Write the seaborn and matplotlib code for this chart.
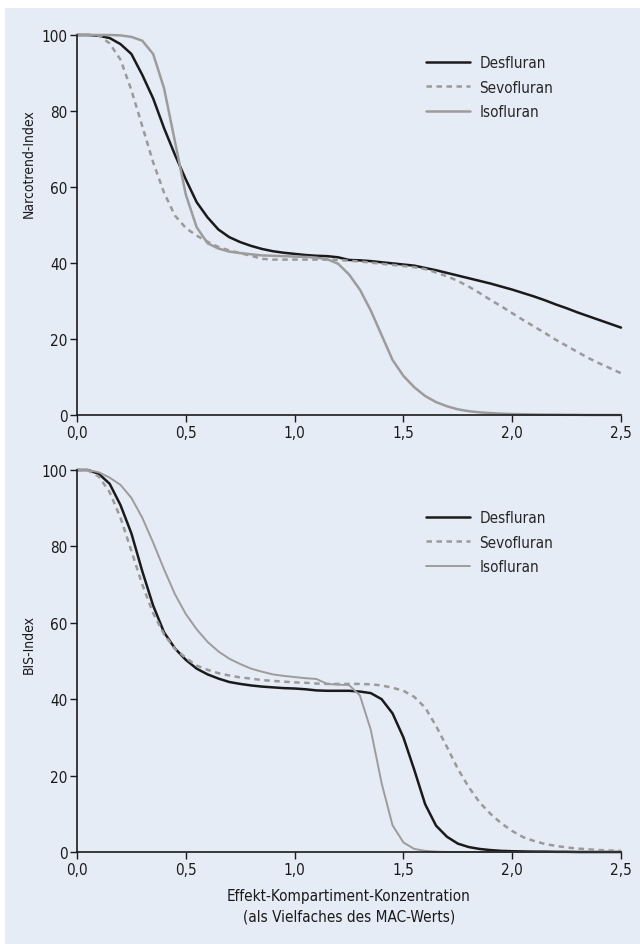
"""
Narcotrend- und BIS-Index vs. Effekt-Kompartiment-Konzentration
"""
import matplotlib
matplotlib.use("Agg")
import matplotlib.pyplot as plt
from matplotlib.patches import Rectangle
import numpy as np
import pandas as pd
import seaborn as sns

# Konzentration (Vielfaches des MAC-Werts), Raster 0.05
mac = np.round(np.arange(0, 2.501, 0.05), 2)

# Narcotrend-Index (oben)
nt_des = [100, 100, 99.8, 99.2, 97.6, 95.0, 89.5, 83.3, 75.5, 68.5,
          62.0, 56.0, 52.0, 48.8, 46.8, 45.5, 44.5, 43.7, 43.1, 42.7,
          42.4, 42.1, 41.9, 41.8, 41.5, 40.8, 40.7, 40.5, 40.2, 39.9,
          39.6, 39.3, 38.7, 38.1, 37.4, 36.7, 36.0, 35.3, 34.6, 33.8,
          33.0, 32.1, 31.2, 30.2, 29.1, 28.1, 27.0, 26.0, 25.0, 24.0, 23.0]
nt_sevo = [100, 100, 99.9, 97.8, 93.5, 85.5, 76.0, 66.5, 58.5, 52.5,
           49.2, 47.2, 45.6, 44.2, 43.3, 42.6, 41.9, 41.1, 40.9, 40.9,
           40.9, 40.9, 40.9, 40.9, 40.8, 40.6, 40.4, 40.1, 39.8, 39.5,
           39.2, 38.9, 38.4, 37.5, 36.5, 35.3, 33.8, 32.1, 30.3, 28.6,
           26.8, 25.0, 23.3, 21.6, 19.8, 18.2, 16.6, 15.0, 13.6, 12.3, 11.0]
nt_iso = [100, 100, 100, 100, 99.9, 99.5, 98.5, 95.0, 86.0, 72.0,
          58.0, 49.4, 45.2, 43.8, 43.0, 42.6, 42.3, 42.0, 41.9, 41.8,
          41.7, 41.6, 41.4, 41.0, 39.8, 37.0, 33.0, 27.5, 21.0, 14.5,
          10.3, 7.3, 5.0, 3.4, 2.3, 1.5, 1.0, 0.7, 0.5, 0.35,
          0.25, 0.2, 0.15, 0.1, 0.1, 0.05, 0.05, 0.0, 0.0, 0.0, 0.0]

# BIS-Index (unten)
bis_des = [100, 100, 99.0, 96.4, 90.8, 83.4, 73.5, 64.5, 57.5, 53.3,
           50.3, 48.0, 46.5, 45.4, 44.5, 44.0, 43.6, 43.3, 43.1, 42.9,
           42.8, 42.6, 42.3, 42.2, 42.2, 42.2, 42.0, 41.6, 40.0, 36.3,
           30.0, 21.5, 12.5, 6.9, 4.0, 2.2, 1.3, 0.8, 0.5, 0.3,
           0.2, 0.15, 0.1, 0.1, 0.05, 0.05, 0.0, 0.0, 0.0, 0.0, 0.0]
bis_sevo = [100, 99.9, 98.3, 94.2, 87.5, 78.8, 70.0, 62.5, 57.0, 53.2,
            50.8, 48.8, 47.7, 46.8, 46.2, 45.7, 45.4, 45.0, 44.8, 44.6,
            44.4, 44.3, 44.1, 44.0, 44.0, 44.0, 44.0, 43.9, 43.6, 43.0,
            42.2, 40.6, 37.8, 33.0, 27.5, 21.8, 17.0, 13.0, 10.0, 7.5,
            5.5, 3.9, 2.9, 2.1, 1.6, 1.2, 0.9, 0.7, 0.5, 0.4, 0.3]
bis_iso = [100, 100, 99.4, 98.0, 96.1, 92.7, 87.5, 81.0, 74.0, 67.5,
           62.3, 58.3, 55.0, 52.5, 50.6, 49.2, 48.0, 47.2, 46.5, 46.1,
           45.8, 45.5, 45.3, 44.0, 43.8, 43.7, 41.0, 32.0, 18.0, 7.0,
           2.5, 0.8, 0.3, 0.1, 0.0, 0.0, 0.0, 0.0, 0.0, 0.0,
           0.0, 0.0, 0.0, 0.0, 0.0, 0.0, 0.0, 0.0, 0.0, 0.0, 0.0]

agents = ["Desfluran", "Sevofluran", "Isofluran"]
x_ticks = [0.0, 0.5, 1.0, 1.5, 2.0, 2.5]
x_ticklabels = ["0,0", "0,5", "1,0", "1,5", "2,0", "2,5"]
y_ticks = [0, 20, 40, 60, 80, 100]

sns.set_style("ticks")
plt.rcParams['font.family'] = ['DejaVu Sans']
plt.rcParams['font.stretch'] = 'condensed'

styles = {
    "Desfluran": dict(color="#1a1a1a", linestyle="-", linewidth=1.8),
    "Sevofluran": dict(color="#9a9a9a", linestyle=(0, (2.2, 1.8)), linewidth=1.8),
    "Isofluran": dict(color="#9c9c9c", linestyle="-", linewidth=1.8),
}

fig = plt.figure(figsize=(6.4, 9.45), dpi=100)
fig.patch.set_facecolor("white")
fig.patches.append(Rectangle((5 / 640, 0), 635 / 640, 1 - 9 / 945,
                             transform=fig.transFigure, facecolor="#e5ecf6",
                             edgecolor="none", zorder=-10))

ax_top = fig.add_axes([77 / 640, 1 - 416 / 945, 544 / 640, 380 / 945])
ax_bot = fig.add_axes([77 / 640, 1 - 853 / 945, 544 / 640, 382 / 945])

# (Achse, Reihen, Y-Beschriftung, Linienbreite Iso, Legendenhoehe, Labelhoehe)
panels = [
    (ax_top, [nt_des, nt_sevo, nt_iso], "Narcotrend-Index", 1.8, 0.963, 0.665),
    (ax_bot, [bis_des, bis_sevo, bis_iso], "BIS-Index", 1.4, 0.911, 0.545),
]

for ax, series, ylabel, iso_lw, leg_y, lab_y in panels:
    df = pd.DataFrame({"MAC": np.tile(mac, 3),
                       "Index": np.concatenate(series),
                       "Agent": np.repeat(agents, len(mac))})
    for agent in agents:
        st = dict(styles[agent])
        if agent == "Isofluran":
            st["linewidth"] = iso_lw
        sns.lineplot(data=df[df["Agent"] == agent], x="MAC", y="Index",
                     ax=ax, label=agent, clip_on=False, **st)
    ax.set_facecolor("none")
    ax.set_xlim(0, 2.5)
    ax.set_ylim(0, 100)
    ax.set_xticks(x_ticks)
    ax.set_xticklabels(x_ticklabels)
    ax.set_yticks(y_ticks)
    ax.tick_params(labelsize=11, length=5, width=1, color="#1a1a1a",
                   labelcolor="#1a1a1a", pad=2)
    for side in ["top", "right"]:
        ax.spines[side].set_visible(False)
    for side in ["left", "bottom"]:
        ax.spines[side].set_color("#1a1a1a")
        ax.spines[side].set_linewidth(1.2)
    ax.set_ylabel(ylabel, fontsize=10, color="#1a1a1a", labelpad=4)
    ax.yaxis.label.set_y(lab_y)
    ax.set_xlabel("")
    ax.legend(loc="upper left", bbox_to_anchor=(0.63, leg_y), frameon=False,
              fontsize=11, handlelength=2.9, labelspacing=0.62,
              handletextpad=0.6, borderaxespad=0)

ax_bot.set_xlabel("Effekt-Kompartiment-Konzentration\n(als Vielfaches des MAC-Werts)",
                  fontsize=11, color="#1a1a1a", labelpad=8, linespacing=1.5)

fig.savefig("out.png", dpi=100, facecolor=fig.get_facecolor())
